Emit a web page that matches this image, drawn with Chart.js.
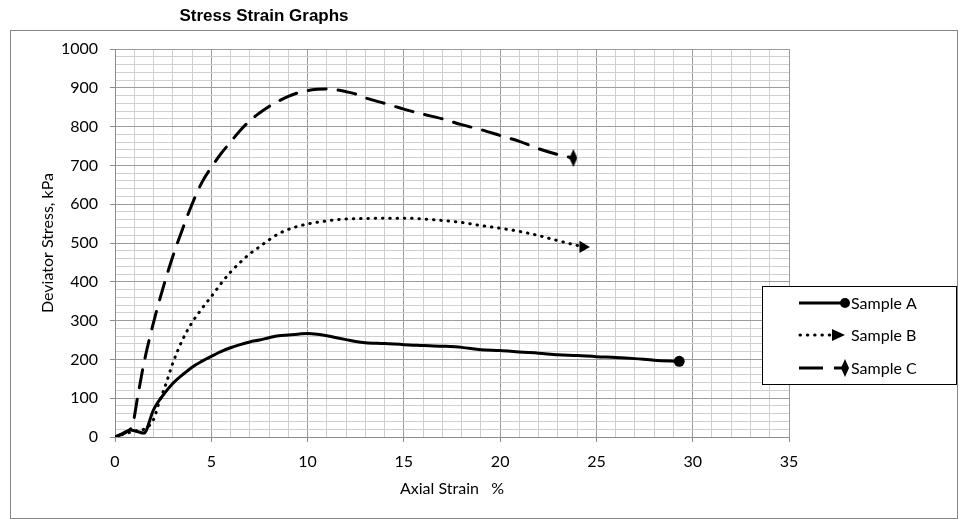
<!DOCTYPE html>
<html>
<head>
<meta charset="utf-8">
<title>Stress Strain Graphs</title>
<script src="https://cdn.jsdelivr.net/npm/chart.js@4.4.1/dist/chart.umd.min.js"></script>
<style>
  html, body { margin: 0; padding: 0; background: #fff; }
  #wrap { width: 967px; height: 524px; }
</style>
</head>
<body>
<div id="wrap"><canvas id="stressChart" width="967" height="524"></canvas></div>
<script>
/* Stress / strain curves for three samples */

// ── Data ─────────────────────────────────────────────────────
const chartTitle = 'Stress Strain Graphs';
const seriesNames = ['Sample A', 'Sample B', 'Sample C'];

const strainA = [0, 0.5, 0.8, 1.1, 1.5, 2.0, 2.5, 3.0, 3.5, 4.0, 4.5, 5.0, 5.5, 6.0, 6.5, 7.0, 7.5, 8.0, 8.5, 9.0, 9.5, 10.0,
  10.5, 11, 11.5, 12, 12.5, 13, 14, 15, 16, 17, 18, 19, 20, 21, 22, 23, 24, 25, 26, 27, 28, 29.3];
const stressA = [0, 10, 18, 15, 10, 70, 108, 138, 160, 180, 195, 208, 220, 230, 238, 245, 250, 256, 261, 263, 265, 267,
  265, 261, 256, 251, 246, 243, 241, 238, 236, 234, 231, 225, 223, 219, 216, 212, 210, 207, 205, 202, 198, 195];

const strainB = [0, 0.5, 1.0, 1.5, 2.0, 2.3, 2.6, 3.0, 3.5, 4.0, 4.5, 5.0, 5.5, 6.0, 6.5, 7.0, 7.5, 8.0, 8.5, 9.0, 9.5,
  10, 11, 12, 13, 14, 15, 16, 17, 18, 19, 20, 21, 22, 23, 24.3];
const stressB = [0, 8, 15, 20, 45, 90, 130, 190, 250, 295, 330, 362, 395, 425, 450, 472, 490, 508, 524, 535, 543,
  549, 557, 562, 563, 564, 564, 562, 558, 553, 545, 538, 530, 519, 506, 490];

const strainC = [0, 0.5, 0.9, 1.2, 1.5, 2.0, 2.5, 3.0, 3.5, 4.0, 4.5, 5.0, 5.5, 6.0, 6.5, 7.0, 7.5, 8.0, 8.5, 9.0, 9.5,
  10, 10.5, 11, 11.5, 12, 12.5, 13, 14, 15, 16, 17, 18, 19, 20, 21, 22, 23, 23.8];
const stressC = [0, 12, 30, 110, 190, 295, 385, 465, 535, 600, 655, 695, 730, 760, 790, 815, 835, 852, 866, 878, 887,
  893, 896, 897, 895, 890, 884, 874, 860, 845, 832, 820, 805, 792, 777, 762, 743, 728, 719];

const xTickLabels = [0, 5, 10, 15, 20, 25, 30, 35];
const yTickLabels = [0, 100, 200, 300, 400, 500, 600, 700, 800, 900, 1000];

// ── Helpers ──────────────────────────────────────────────────
const FONT = 'Lato, "Noto Sans", sans-serif';
const toPoints = (xs, ys) => xs.map((x, i) => ({ x, y: ys[i] }));
const lastOnly = r => ctx => ctx.dataIndex === ctx.dataset.data.length - 1 ? r : 0;

// narrow diamond marker used by Sample C
function makeDiamond(w, h) {
  const c = document.createElement('canvas');
  c.width = w; c.height = h;
  const g = c.getContext('2d');
  g.fillStyle = '#000';
  g.beginPath();
  g.moveTo(w / 2, 0); g.lineTo(w, h / 2); g.lineTo(w / 2, h); g.lineTo(0, h / 2);
  g.closePath(); g.fill();
  return c;
}
const diamond = makeDiamond(8, 18);

// ── Frame + title ────────────────────────────────────────────
const framePlugin = {
  id: 'frame',
  beforeDraw(chart) {
    const c = chart.ctx;
    c.save();
    c.fillStyle = '#fff';
    c.fillRect(0, 0, chart.width, chart.height);
    c.strokeStyle = '#868686';
    c.lineWidth = 1;
    c.strokeRect(10.5, 30.5, 947, 488);
    c.fillStyle = '#000';
    c.font = 'bold 17px "Liberation Sans", Arial, sans-serif';
    c.textAlign = 'center';
    c.textBaseline = 'middle';
    c.fillText(chartTitle, 264, 16);
    c.restore();
  }
};

// ── Legend box (line sample + end marker) ────────────────────
const legendPlugin = {
  id: 'boxLegend',
  afterDraw(chart) {
    const c = chart.ctx;
    const box = { x: 762.5, y: 286.5, w: 194, h: 98 };
    const rows = [303, 335, 368];
    c.save();
    c.fillStyle = '#fff';
    c.fillRect(box.x, box.y, box.w, box.h);
    c.strokeStyle = '#000';
    c.lineWidth = 1;
    c.strokeRect(box.x, box.y, box.w, box.h);

    c.strokeStyle = '#000';
    c.fillStyle = '#000';
    c.lineWidth = 3;

    // Sample A
    let y = rows[0];
    c.beginPath(); c.moveTo(799, y); c.lineTo(845, y); c.stroke();
    c.beginPath(); c.arc(845, y, 5, 0, Math.PI * 2); c.fill();

    // Sample B
    y = rows[1];
    c.lineCap = 'round';
    c.setLineDash([0.5, 6.8]);
    c.beginPath(); c.moveTo(800, y); c.lineTo(830, y); c.stroke();
    c.setLineDash([]);
    c.lineCap = 'butt';
    c.beginPath(); c.moveTo(832, y - 6); c.lineTo(845, y); c.lineTo(832, y + 6); c.closePath(); c.fill();

    // Sample C
    y = rows[2];
    c.beginPath(); c.moveTo(799, y); c.lineTo(823, y); c.stroke();
    c.beginPath(); c.moveTo(834, y); c.lineTo(845, y); c.stroke();
    c.drawImage(diamond, 841, y - 9);

    c.font = '16px ' + FONT;
    c.textAlign = 'left';
    c.textBaseline = 'middle';
    seriesNames.forEach((name, i) => c.fillText(name, 851, rows[i] + 1));
    c.restore();
  }
};

// ── Chart ────────────────────────────────────────────────────
const lineBase = {
  borderColor: '#000',
  backgroundColor: '#000',
  borderWidth: 3,
  fill: false,
  cubicInterpolationMode: 'monotone',
  pointBorderWidth: 0,
  pointHoverRadius: 0
};

new Chart(document.getElementById('stressChart'), {
  type: 'line',
  data: {
    datasets: [
      Object.assign({}, lineBase, {
        label: seriesNames[0],
        data: toPoints(strainA, stressA),
        pointStyle: 'circle',
        pointRadius: lastOnly(5.5)
      }),
      Object.assign({}, lineBase, {
        label: seriesNames[1],
        data: toPoints(strainB, stressB),
        borderDash: [0.5, 6.8],
        borderCapStyle: 'round',
        pointStyle: 'triangle',
        pointRotation: 90,
        pointRadius: lastOnly(7)
      }),
      Object.assign({}, lineBase, {
        label: seriesNames[2],
        data: toPoints(strainC, stressC),
        borderDash: [18, 12],
        borderCapStyle: 'round',
        pointStyle: diamond,
        pointRadius: lastOnly(9)
      })
    ]
  },
  options: {
    responsive: false,
    animation: false,
    events: [],
    layout: { padding: { top: 49, right: 178, bottom: 0, left: 0 } },
    plugins: {
      legend: { display: false },
      title: { display: false },
      tooltip: { enabled: false }
    },
    scales: {
      x: {
        type: 'linear',
        min: 0,
        max: 35,
        afterFit(scale) { scale.height = 87; },
        border: { color: '#8c8c8c', width: 1 },
        grid: {
          color: ctx => Math.round(ctx.tick.value) % 5 === 0 ? '#9c9c9c' : '#cfcfcf',
          tickColor: ctx => Math.round(ctx.tick.value) % 5 === 0 ? '#8c8c8c' : 'rgba(0,0,0,0)',
          tickLength: 5
        },
        ticks: {
          stepSize: 1,
          autoSkip: false,
          maxRotation: 0,
          padding: 10,
          color: '#000',
          font: { family: FONT, size: 16 },
          callback: v => xTickLabels.includes(Math.round(v)) && Math.abs(v - Math.round(v)) < 1e-6 ? String(Math.round(v)) : ''
        },
        title: {
          display: true,
          text: 'Axial Strain   %',
          color: '#000',
          font: { family: FONT, size: 16 },
          padding: { top: 0, bottom: 26 }
        }
      },
      y: {
        type: 'linear',
        min: 0,
        max: 1000,
        afterFit(scale) { scale.width = 115; },
        border: { color: '#8c8c8c', width: 1 },
        grid: {
          color: ctx => Math.round(ctx.tick.value) % 100 === 0 ? '#9c9c9c' : '#cfcfcf',
          tickColor: ctx => Math.round(ctx.tick.value) % 100 === 0 ? '#8c8c8c' : 'rgba(0,0,0,0)',
          tickLength: 5
        },
        ticks: {
          stepSize: 20,
          autoSkip: false,
          padding: 12,
          color: '#000',
          font: { family: FONT, size: 16 },
          callback: v => yTickLabels.includes(Math.round(v)) ? String(Math.round(v)) : ''
        },
        title: {
          display: true,
          text: 'Deviator Stress, kPa',
          color: '#000',
          font: { family: FONT, size: 16 },
          padding: { top: 38, bottom: 0 }
        }
      }
    }
  },
  plugins: [framePlugin, legendPlugin]
});
</script>
</body>
</html>
